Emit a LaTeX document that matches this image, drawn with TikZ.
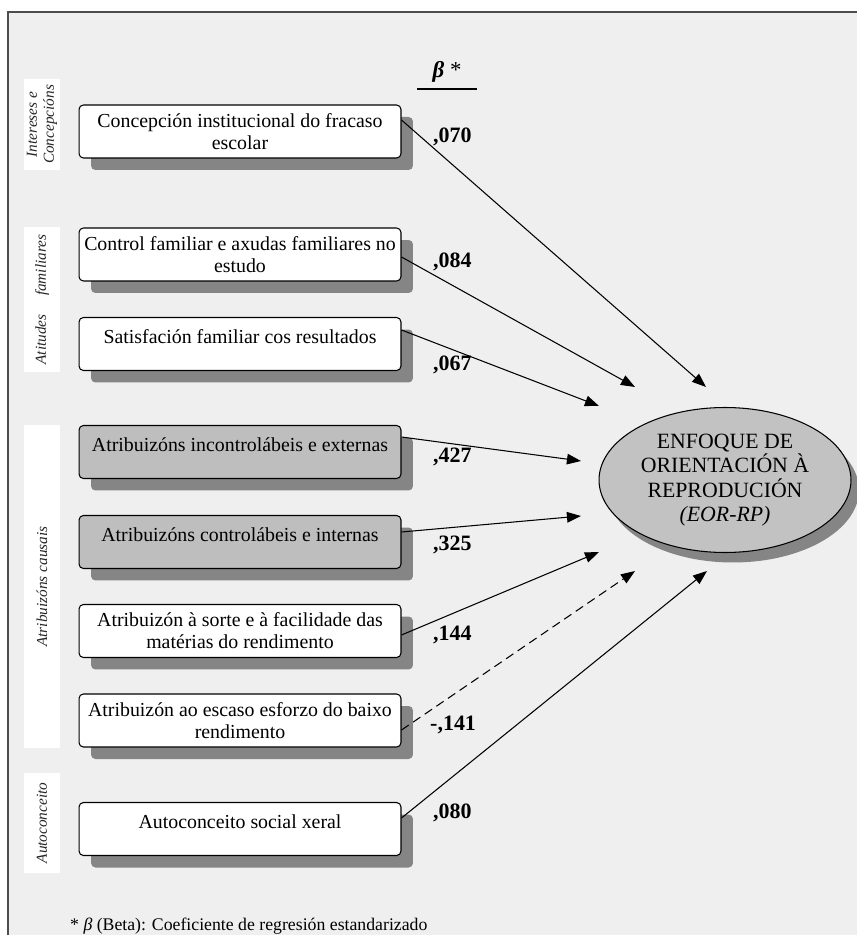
\documentclass[tikz,border=0pt]{standalone}
\usepackage{fontspec}
\setmainfont{Liberation Serif}
\usetikzlibrary{shapes.geometric,shadows,arrows.meta}
\definecolor{paper}{HTML}{EFEFEF}
\definecolor{frameline}{HTML}{4D4D4D}
\definecolor{boxgray}{HTML}{BEBEBE}
\definecolor{shade}{HTML}{858585}
\definecolor{ovalgray}{HTML}{C2C2C2}
\begin{document}
\begin{tikzpicture}[x=0.02cm, y=-0.02cm,
  var/.style={draw, rectangle, rounded corners=2.5pt, line width=0.6pt, fill=white,
    minimum width=6.44cm, minimum height=1.06cm, inner xsep=1pt, align=center,
    font=\fontsize{11.3}{12.5}\selectfont,
    drop shadow={shadow xshift=0.24cm, shadow yshift=-0.24cm, fill=shade, opacity=1}},
  oneline/.style={text height=8pt, text depth=9pt},
  grp/.style={fill=white, rotate=90, minimum height=0.72cm, inner sep=0pt, align=center,
    text=black!85, font=\fontsize{8.7}{9.6}\selectfont\itshape},
  coef/.style={anchor=west, font=\fontsize{12.5}{14}\selectfont\bfseries},
  link/.style={-{Triangle[length=8pt,width=6pt]}, line width=0.6pt}]
\useasboundingbox (0,0) rectangle (857,935);
\fill[paper] (8,12) rectangle (857,935);
\draw[frameline, line width=0.85pt] (857,12) -- (8,12) -- (8,935);

% group labels
\node[grp, minimum width=1.82cm] (gInt) at (42,124.5) {Intereses e\\Concepcións};
\node[grp, minimum width=2.9cm] (gAti) at (42,299.5) {Atitudes\hspace{1.2em}familiares};
\node[grp, minimum width=6.46cm] (gAtr) at (42,586.5) {Atribuizóns causais};
\node[grp, minimum width=2cm] (gAut) at (42,823) {Autoconceito};

% predictors
\node[var] (b1) at (240,131.5) {Concepción institucional do fracaso\\escolar};
\node[var] (b2) at (240,254.5) {Control familiar e axudas familiares no\\estudo};
\node[var, oneline] (b3) at (240,344) {Satisfación familiar cos resultados};
\node[var, oneline, fill=boxgray] (b4) at (240,452) {Atribuizóns incontrolábeis e externas};
\node[var, oneline, fill=boxgray] (b5) at (240,542) {Atribuizóns controlábeis e internas};
\node[var] (b6) at (240,631) {Atribuizón à sorte e à facilidade das\\matérias do rendimento};
\node[var] (b7) at (240,720.5) {Atribuizón ao escaso esforzo do baixo\\rendimento};
\node[var, oneline] (b8) at (240,829) {Autoconceito social xeral};

% outcome
\node[draw, ellipse, fill=ovalgray, line width=0.6pt, minimum width=5.04cm, minimum height=2.9cm,
  inner sep=0pt, align=center, font=\fontsize{12.4}{13.8}\selectfont,
  drop shadow={shadow xshift=0.16cm, shadow yshift=-0.2cm, fill=shade, opacity=1}]
  (eor) at (725,480) {ENFOQUE DE\\ORIENTACIÓN À\\REPRODUCIÓN\\\textit{(EOR-RP)}};

% beta column
\node[font=\fontsize{13}{14}\selectfont] (bhead) at (447,72) {\textbf{\textit{β}} *};
\draw[line width=0.6pt] (417,89) -- (477,89);
\node[coef] (v1) at (427,137) {,070};
\node[coef] (v2) at (427,262) {,084};
\node[coef] (v3) at (427,365) {,067};
\node[coef] (v4) at (427,457) {,427};
\node[coef] (v5) at (427,545) {,325};
\node[coef] (v6) at (427,635) {,144};
\node[coef] (v7) at (424,725) {-,141};
\node[coef] (v8) at (427,813) {,080};

\coordinate (e1) at (706,387);
\coordinate (e2) at (635,387);
\coordinate (e3) at (599,406);
\coordinate (e4) at (581,461);
\coordinate (e5) at (581,516);
\coordinate (e6) at (599,552);
\coordinate (e7) at (635,571);
\coordinate (e8) at (707,571);
\draw[link] ([yshift=0.23cm]b1.east) -- (e1);
\draw[link] ([yshift=-0.05cm]b2.east) -- (e2);
\draw[link] ([yshift=0.28cm]b3.east) -- (e3);
\draw[link] ([yshift=0.30cm]b4.east) -- (e4);
\draw[link] ([yshift=0.20cm]b5.east) -- (e5);
\draw[link] ([yshift=-0.08cm]b6.east) -- (e6);
\draw[link, dash pattern=on 5pt off 3pt] ([yshift=-0.19cm]b7.east) -- (e7);
\draw[link] ([yshift=0.22cm]b8.east) -- (e8);

\node[anchor=base west, font=\fontsize{10.1}{12}\selectfont] (note) at (64,930)
  {* \textit{β} (Beta): Coeficiente de regresión estandarizado};
\end{tikzpicture}
\end{document}
